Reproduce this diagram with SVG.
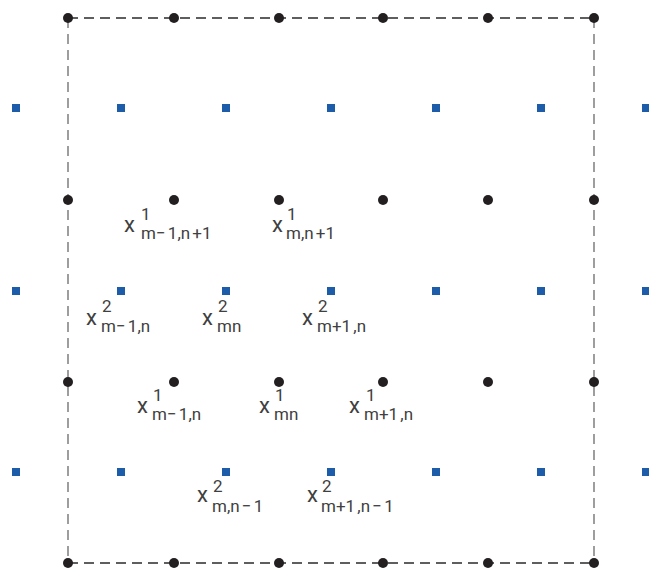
<svg xmlns="http://www.w3.org/2000/svg" width="649" height="568" viewBox="0 0 649 568">
<defs>
<style>
.dot{fill:#231f20}
.sq{fill:#1c5ca8}
.h{stroke:#2a2a2a;stroke-width:1.3;stroke-dasharray:10 6;fill:none}
.v{stroke:#6a6a6a;stroke-width:1.3;stroke-dasharray:10 6;fill:none}
text{font-family:Roboto,"Open Sans",sans-serif;fill:#404040}
.x{font-size:22px}
.s{font-size:17px;word-spacing:-2px}
</style>
<circle id="d" r="5" class="dot"/>
<rect id="q" x="-4" y="-4" width="8" height="8" class="sq"/>
</defs>
<rect width="649" height="568" fill="#fff"/>
<g id="connectors">
<line class="h" x1="68" y1="18" x2="594" y2="18"/>
<line class="h" x1="68" y1="563" x2="594" y2="563"/>
<line class="v" x1="68" y1="18" x2="68" y2="563"/>
<line class="v" x1="594" y1="18" x2="594" y2="563"/>
</g>
<g id="dots">
<use href="#d" x="68" y="18"/><use href="#d" x="174" y="18"/><use href="#d" x="279" y="18"/><use href="#d" x="383" y="18"/><use href="#d" x="488" y="18"/><use href="#d" x="594" y="18"/>
<use href="#d" x="68" y="200"/><use href="#d" x="174" y="200"/><use href="#d" x="279" y="200"/><use href="#d" x="383" y="200"/><use href="#d" x="488" y="200"/><use href="#d" x="594" y="200"/>
<use href="#d" x="68" y="382"/><use href="#d" x="174" y="382"/><use href="#d" x="279" y="382"/><use href="#d" x="383" y="382"/><use href="#d" x="488" y="382"/><use href="#d" x="594" y="382"/>
<use href="#d" x="68" y="563"/><use href="#d" x="174" y="563"/><use href="#d" x="279" y="563"/><use href="#d" x="383" y="563"/><use href="#d" x="488" y="563"/><use href="#d" x="594" y="563"/>
</g>
<g id="squares">
<use href="#q" x="16" y="108"/><use href="#q" x="121" y="108"/><use href="#q" x="226" y="108"/><use href="#q" x="331" y="108"/><use href="#q" x="436" y="108"/><use href="#q" x="541" y="108"/><use href="#q" x="646" y="108"/>
<use href="#q" x="16" y="291"/><use href="#q" x="121" y="291"/><use href="#q" x="226" y="291"/><use href="#q" x="331" y="291"/><use href="#q" x="436" y="291"/><use href="#q" x="541" y="291"/><use href="#q" x="646" y="291"/>
<use href="#q" x="16" y="472"/><use href="#q" x="121" y="472"/><use href="#q" x="226" y="472"/><use href="#q" x="331" y="472"/><use href="#q" x="436" y="472"/><use href="#q" x="541" y="472"/><use href="#q" x="646" y="472"/>
</g>
<g id="label1"><text class="x" x="124" y="232">x</text><text class="s" x="141" y="220">1</text><text class="s" x="141" y="239">m− 1,n +1</text></g>
<g id="label2"><text class="x" x="272" y="232">x</text><text class="s" x="287" y="220">1</text><text class="s" x="286" y="239">m,n +1</text></g>
<g id="label3"><text class="x" x="86" y="325">x</text><text class="s" x="102" y="312">2</text><text class="s" x="101" y="332">m− 1,n</text></g>
<g id="label4"><text class="x" x="202" y="325">x</text><text class="s" x="218" y="312">2</text><text class="s" x="217" y="332">mn</text></g>
<g id="label5"><text class="x" x="302" y="325">x</text><text class="s" x="318" y="312">2</text><text class="s" x="317" y="332">m+1 ,n</text></g>
<g id="label6"><text class="x" x="137" y="413">x</text><text class="s" x="153" y="401">1</text><text class="s" x="152" y="420">m− 1,n</text></g>
<g id="label7"><text class="x" x="259" y="413">x</text><text class="s" x="275" y="401">1</text><text class="s" x="274" y="420">mn</text></g>
<g id="label8"><text class="x" x="349" y="413">x</text><text class="s" x="366" y="401">1</text><text class="s" x="364" y="420">m+1 ,n</text></g>
<g id="label9"><text class="x" x="197" y="502">x</text><text class="s" x="213" y="492">2</text><text class="s" x="212" y="512">m,n − 1</text></g>
<g id="label10"><text class="x" x="307" y="502">x</text><text class="s" x="322" y="492">2</text><text class="s" x="321" y="512">m+1 ,n − 1</text></g>
</svg>
